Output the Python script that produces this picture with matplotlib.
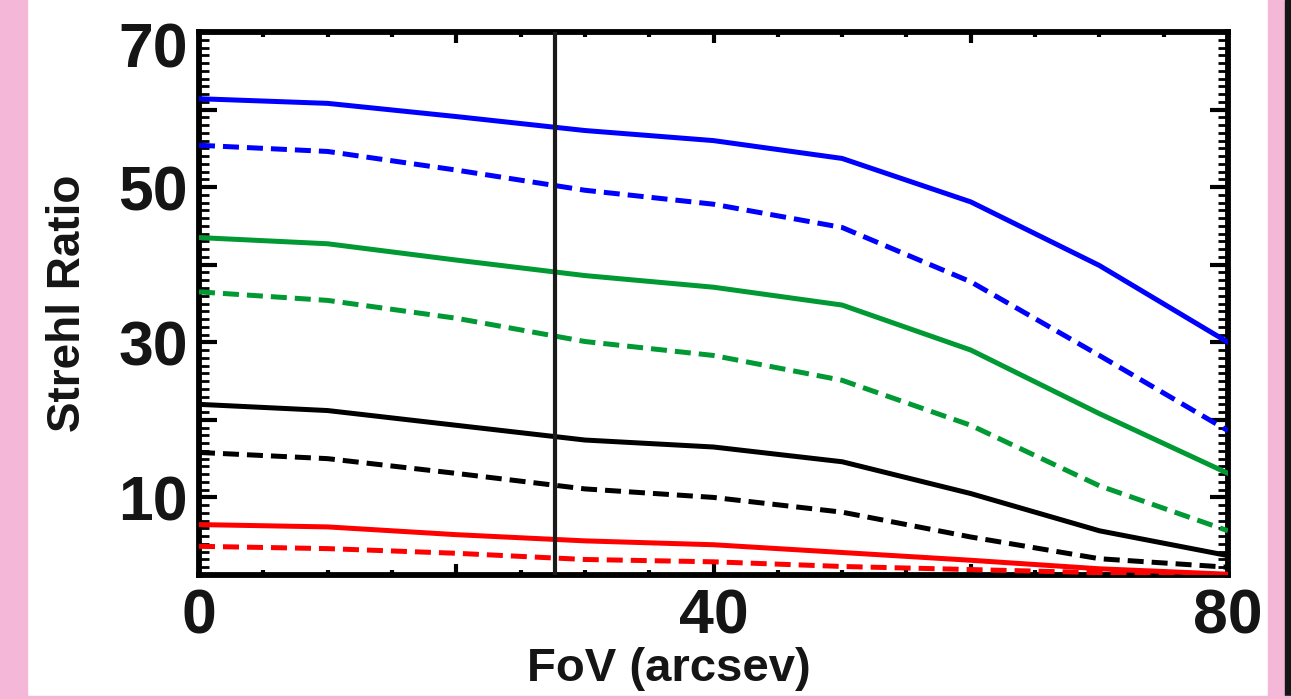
"""
Strehl ratio vs field of view, solid/dashed pairs for four cases.
"""
import matplotlib
matplotlib.use("Agg")
import matplotlib.pyplot as plt
from matplotlib.patches import Rectangle
from matplotlib.transforms import ScaledTranslation
from matplotlib.ticker import MultipleLocator, FixedLocator, FixedFormatter

# ---------------------------------------------------------------------------
# Data
# ---------------------------------------------------------------------------
fov = [0, 10, 20, 30, 40, 50, 60, 70, 80]

blue_solid   = [61.4, 60.8, 59.1, 57.3, 56.0, 53.7, 48.1, 39.9, 30.0]
blue_dashed  = [55.4, 54.6, 52.2, 49.6, 47.8, 44.8, 37.8, 28.3, 18.6]
green_solid  = [43.5, 42.7, 40.6, 38.6, 37.1, 34.8, 29.0, 20.8, 13.1]
green_dashed = [36.5, 35.4, 33.1, 30.1, 28.3, 25.1, 19.3, 11.5, 5.7]
black_solid  = [22.0, 21.2, 19.3, 17.4, 16.5, 14.6, 10.5, 5.7, 2.5]
black_dashed = [15.8, 15.0, 13.1, 11.1, 10.0, 8.1, 4.9, 2.1, 1.0]
red_solid    = [6.5, 6.2, 5.2, 4.4, 3.9, 2.9, 1.9, 0.8, 0.1]
red_dashed   = [3.7, 3.4, 2.8, 2.0, 1.7, 1.1, 0.7, 0.3, 0.0]

marker_fov = 27.7

xticks      = [0, 20, 40, 60, 80]
xticklabels = ["0", "", "40", "", "80"]
yticks      = [0, 10, 20, 30, 40, 50, 60, 70]
yticklabels = ["", "10", "", "30", "", "50", "", "70"]

# ---------------------------------------------------------------------------
# Style
# ---------------------------------------------------------------------------
plt.rcParams["font.family"] = ["Liberation Sans", "DejaVu Sans"]
plt.rcParams["font.weight"] = "bold"

BLUE  = "#0000ff"
GREEN = "#009933"
RED   = "#ff0000"
BLACK = "#000000"
PINK  = "#f5b7d7"
LW    = 3.6
DASH  = (0, (3.2, 1.6))

fig = plt.figure(figsize=(12.91, 6.99), dpi=100)

# page frame: pink bands left/right/bottom, dark strip at far right
fig.patches.append(Rectangle((0, 0), 27 / 1291, 1, transform=fig.transFigure,
                             color=PINK, zorder=-10))
fig.patches.append(Rectangle((1268 / 1291, 0), 17 / 1291, 1,
                             transform=fig.transFigure, color=PINK, zorder=-10))
fig.patches.append(Rectangle((1285 / 1291, 0), 6 / 1291, 1,
                             transform=fig.transFigure, color="#161616",
                             zorder=-10))
fig.patches.append(Rectangle((0, 0), 1, 3 / 699, transform=fig.transFigure,
                             color=PINK, zorder=-10))

ax = fig.add_axes([199 / 1291, 1 - 575 / 699, 1029 / 1291, 543 / 699])

series = [
    (blue_solid,   BLUE,  "-"),
    (blue_dashed,  BLUE,  DASH),
    (green_solid,  GREEN, "-"),
    (green_dashed, GREEN, DASH),
    (black_solid,  BLACK, "-"),
    (black_dashed, BLACK, DASH),
    (red_solid,    RED,   "-"),
    (red_dashed,   RED,   DASH),
]
for vals, col, ls in series:
    ax.plot(fov, vals, color=col, lw=LW, ls=ls, solid_joinstyle="miter",
            clip_on=True, zorder=3)

ax.axvline(marker_fov, color="#1a1a1a", lw=3.0, zorder=4)

ax.set_xlim(0, 80)
ax.set_ylim(0, 70)

ax.xaxis.set_major_locator(FixedLocator(xticks))
ax.xaxis.set_major_formatter(FixedFormatter(xticklabels))
ax.xaxis.set_minor_locator(MultipleLocator(5))
ax.yaxis.set_major_locator(FixedLocator(yticks))
ax.yaxis.set_major_formatter(FixedFormatter(yticklabels))
ax.yaxis.set_minor_locator(MultipleLocator(1))

ax.tick_params(axis="both", which="both", direction="in",
               top=True, right=True, color="black")
ax.tick_params(axis="x", which="major", length=8, width=3, pad=9,
               labelsize=45)
ax.tick_params(axis="x", which="minor", length=3.5, width=3)
ax.tick_params(axis="y", which="major", length=13, width=3, pad=8,
               labelsize=45)
ax.tick_params(axis="y", which="minor", length=7, width=2)

for t in ax.get_xticklabels() + ax.get_yticklabels():
    t.set_fontweight("bold")
    t.set_color("#151515")

# top label sits a bit lower in the original
top_lab = ax.yaxis.get_major_ticks()[-1].label1
top_lab.set_transform(top_lab.get_transform()
                      + ScaledTranslation(0, -9 / 72, fig.dpi_scale_trans))

for s in ax.spines.values():
    s.set_linewidth(4.2)
    s.set_color("black")

ax.set_xlabel("FoV (arcsev)", fontsize=34, fontweight="bold",
              color="#151515", labelpad=2)
ax.xaxis.set_label_coords(0.457, -0.133)
ax.set_ylabel("Strehl Ratio", fontsize=33, fontweight="bold",
              color="#151515", labelpad=20)

fig.savefig("out.png", dpi=100, facecolor="white")
